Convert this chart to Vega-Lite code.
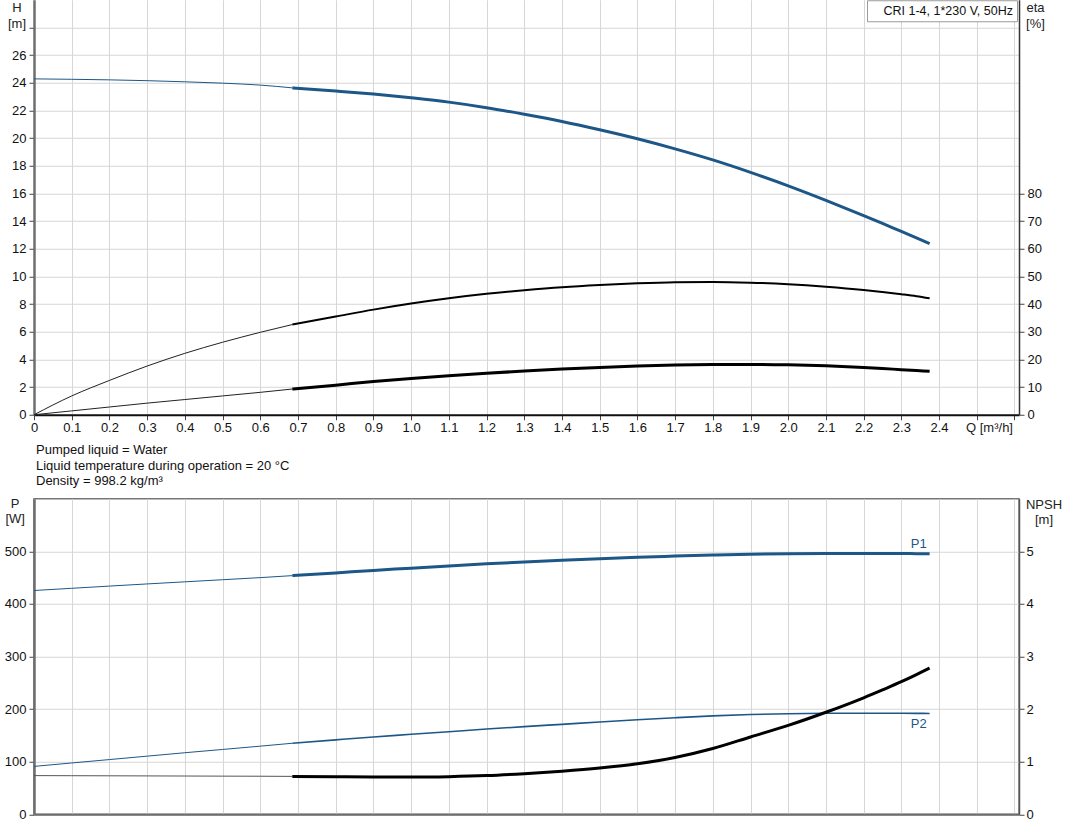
{
  "$schema": "https://vega.github.io/schema/vega-lite/v6.json",
  "background": "white",
  "padding": {"left": 3, "top": -0.25, "right": 8, "bottom": 17},
  "config": {
    "font": "Liberation Sans",
    "view": {"stroke": "#777777", "strokeWidth": 1.5},
    "axis": {
      "labelFont": "Liberation Sans", "labelFontSize": 13, "labelColor": "#111111",
      "titleFont": "Liberation Sans", "titleFontSize": 13, "titleFontWeight": "normal", "titleColor": "#222222",
      "gridColor": "#d6d6d6", "gridWidth": 1, "tickColor": "#444444", "labelFlush": false, "labelOverlap": false
    }
  },
  "datasets": {
    "pump": [
      {"Q": 0, "H": 24.28, "eta": 0, "etaTotal": 0, "P1": 425.5, "P2": 91, "NPSH": 0.735},
      {"Q": 0.1, "H": 24.25, "eta": 6.8, "etaTotal": 1.4, "P1": 429.7, "P2": 97.5, "NPSH": 0.733},
      {"Q": 0.2, "H": 24.21, "eta": 12.4, "etaTotal": 2.8, "P1": 433.9, "P2": 104, "NPSH": 0.731},
      {"Q": 0.3, "H": 24.15, "eta": 17.6, "etaTotal": 4.2, "P1": 438, "P2": 110.5, "NPSH": 0.729},
      {"Q": 0.4, "H": 24.07, "eta": 22.2, "etaTotal": 5.5, "P1": 442, "P2": 117, "NPSH": 0.727},
      {"Q": 0.5, "H": 23.97, "eta": 26.2, "etaTotal": 6.8, "P1": 446, "P2": 123.2, "NPSH": 0.725},
      {"Q": 0.6, "H": 23.83, "eta": 29.8, "etaTotal": 8.1, "P1": 450, "P2": 129.5, "NPSH": 0.723},
      {"Q": 0.685, "H": 23.63, "eta": 32.6, "etaTotal": 9.3, "P1": 453.8, "P2": 135, "NPSH": 0.72},
      {"Q": 0.8, "H": 23.4, "eta": 35.5, "etaTotal": 10.7, "P1": 459, "P2": 141.5, "NPSH": 0.713},
      {"Q": 0.9, "H": 23.18, "eta": 38.0, "etaTotal": 12.0, "P1": 463.7, "P2": 147, "NPSH": 0.708},
      {"Q": 1.0, "H": 22.91, "eta": 40.2, "etaTotal": 13.1, "P1": 468, "P2": 152, "NPSH": 0.707},
      {"Q": 1.1, "H": 22.6, "eta": 42.1, "etaTotal": 14.1, "P1": 472.3, "P2": 157, "NPSH": 0.715},
      {"Q": 1.2, "H": 22.2, "eta": 43.7, "etaTotal": 15.0, "P1": 476.3, "P2": 162, "NPSH": 0.735},
      {"Q": 1.3, "H": 21.72, "eta": 45.0, "etaTotal": 15.8, "P1": 479.8, "P2": 166.6, "NPSH": 0.772},
      {"Q": 1.4, "H": 21.2, "eta": 46.1, "etaTotal": 16.5, "P1": 483, "P2": 171, "NPSH": 0.82},
      {"Q": 1.5, "H": 20.6, "eta": 46.9, "etaTotal": 17.1, "P1": 486, "P2": 175.5, "NPSH": 0.88},
      {"Q": 1.6, "H": 19.95, "eta": 47.5, "etaTotal": 17.6, "P1": 488.7, "P2": 179.6, "NPSH": 0.96},
      {"Q": 1.7, "H": 19.22, "eta": 47.9, "etaTotal": 17.95, "P1": 491, "P2": 183.5, "NPSH": 1.08},
      {"Q": 1.8, "H": 18.42, "eta": 48.0, "etaTotal": 18.15, "P1": 493, "P2": 187, "NPSH": 1.25},
      {"Q": 1.9, "H": 17.52, "eta": 47.75, "etaTotal": 18.2, "P1": 494.5, "P2": 189.6, "NPSH": 1.47},
      {"Q": 2.0, "H": 16.55, "eta": 47.2, "etaTotal": 18.05, "P1": 495.4, "P2": 191.2, "NPSH": 1.69},
      {"Q": 2.1, "H": 15.5, "eta": 46.3, "etaTotal": 17.7, "P1": 495.8, "P2": 192, "NPSH": 1.94},
      {"Q": 2.2, "H": 14.4, "eta": 45.1, "etaTotal": 17.1, "P1": 496, "P2": 192.2, "NPSH": 2.215},
      {"Q": 2.25, "H": 13.83, "eta": 44.35, "etaTotal": 16.72, "P1": 495.9, "P2": 192.1, "NPSH": 2.365},
      {"Q": 2.3, "H": 13.25, "eta": 43.55, "etaTotal": 16.3, "P1": 495.8, "P2": 192, "NPSH": 2.52},
      {"Q": 2.34, "H": 12.79, "eta": 42.85, "etaTotal": 15.98, "P1": 495.6, "P2": 191.9, "NPSH": 2.655},
      {"Q": 2.375, "H": 12.37, "eta": 42.1, "etaTotal": 15.7, "P1": 495.5, "P2": 191.7, "NPSH": 2.78}
    ]
  },
  "data": {"name": "pump"},
  "spacing": 8,
  "resolve": {"scale": {"color": "independent"}, "legend": {"color": "independent"}},
  "vconcat": [
    {
      "width": 985,
      "height": 415,
      "view": {"stroke": null},
      "encoding": {
        "x": {
          "field": "Q", "type": "quantitative",
          "scale": {"domain": [0, 2.612], "nice": false, "zero": false},
          "axis": {
            "values": [0, 0.1, 0.2, 0.3, 0.4, 0.5, 0.6, 0.7, 0.8, 0.9, 1.0, 1.1, 1.2, 1.3, 1.4, 1.5, 1.6, 1.7, 1.8, 1.9, 2.0, 2.1, 2.2, 2.3, 2.4, 2.5, 2.6],
            "labelExpr": "datum.value == 0 ? '0' : (datum.value > 2.45 ? '' : format(datum.value, '.1f'))",
            "labelOverlap": false,
            "title": "Q [m³/h]", "titleX": 955, "titleY": 12.5, "titleAlign": "center", "titleBaseline": "middle",
            "grid": true, "tickSize": 5, "labelPadding": 2, "domainColor": "#111111", "domainWidth": 2
          }
        }
      },
      "layer": [
        {
          "layer": [
            {
              "transform": [{"filter": "datum.Q <= 0.69"}],
              "mark": {"type": "line", "color": "#1d5788", "strokeWidth": 1, "interpolate": "monotone"},
              "encoding": {
                "y": {
                  "field": "H", "type": "quantitative",
                  "scale": {"domain": [0, 30], "nice": false, "zero": false},
                  "axis": {
                    "orient": "left",
                    "values": [0, 2, 4, 6, 8, 10, 12, 14, 16, 18, 20, 22, 24, 26, 28],
                    "labelExpr": "datum.value >= 27 ? '' : format(datum.value, 'd')",
                    "labelOverlap": false, "labelSeparation": 0,
                    "title": ["H", "[m]"], "titleAngle": 0, "titleAlign": "center", "titleBaseline": "top",
                    "titleX": -17.5, "titleY": 2, "titleLineHeight": 15.5,
                    "grid": true, "tickSize": 5, "labelPadding": 3, "domainColor": "#6e6e6e", "domainWidth": 2.5
                  }
                }
              }
            },
            {
              "transform": [{"filter": "datum.Q >= 0.68"}],
              "mark": {"type": "line", "strokeWidth": 3, "interpolate": "monotone"},
              "encoding": {
                "y": {
                  "field": "H", "type": "quantitative",
                  "scale": {"domain": [0, 30], "nice": false, "zero": false},
                  "axis": {
                    "orient": "left",
                    "values": [0, 2, 4, 6, 8, 10, 12, 14, 16, 18, 20, 22, 24, 26, 28],
                    "labelExpr": "datum.value >= 27 ? '' : format(datum.value, 'd')",
                    "labelOverlap": false, "labelSeparation": 0,
                    "title": ["H", "[m]"], "titleAngle": 0, "titleAlign": "center", "titleBaseline": "top",
                    "titleX": -17.5, "titleY": 2, "titleLineHeight": 15.5,
                    "grid": true, "tickSize": 5, "labelPadding": 3, "domainColor": "#6e6e6e", "domainWidth": 2.5
                  }
                },
                "color": {
                  "datum": "CRI 1-4, 1*230 V, 50Hz", "type": "nominal",
                  "scale": {"range": ["#1d5788"]},
                  "legend": {
                    "title": null, "orient": "none", "legendX": 833, "legendY": 0.5, "padding": 4,
                    "symbolOpacity": 0, "symbolSize": 0, "symbolStrokeWidth": 0, "labelOffset": 0,
                    "labelFont": "Liberation Sans", "labelFontSize": 12.5, "labelColor": "#111111",
                    "strokeColor": "#9a9a9a", "fillColor": "white"
                  }
                }
              }
            }
          ]
        },
        {
          "layer": [
            {
              "transform": [{"filter": "datum.Q <= 0.69"}],
              "mark": {"type": "line", "color": "#222222", "strokeWidth": 1, "interpolate": "monotone"},
              "encoding": {
                "y": {
                  "field": "eta", "type": "quantitative",
                  "scale": {"domain": [0, 150], "nice": false, "zero": false},
                  "axis": {
                    "orient": "right",
                    "values": [0, 10, 20, 30, 40, 50, 60, 70, 80],
                    "labelOverlap": false,
                    "title": ["eta", "[%]"], "titleAngle": 0, "titleAlign": "center", "titleBaseline": "top",
                    "titleX": 16, "titleY": 2, "titleLineHeight": 15.5,
                    "grid": false, "tickSize": 5, "labelPadding": 3, "domainColor": "#333333", "domainWidth": 1.5
                  }
                }
              }
            },
            {
              "transform": [{"filter": "datum.Q >= 0.68"}],
              "mark": {"type": "line", "color": "#000000", "strokeWidth": 2, "interpolate": "monotone"},
              "encoding": {
                "y": {"field": "eta", "type": "quantitative", "scale": {"domain": [0, 150], "nice": false, "zero": false}, "title": ["eta", "[%]"]}
              }
            },
            {
              "transform": [{"filter": "datum.Q <= 0.69"}],
              "mark": {"type": "line", "color": "#222222", "strokeWidth": 1, "interpolate": "monotone"},
              "encoding": {
                "y": {"field": "etaTotal", "type": "quantitative", "scale": {"domain": [0, 150], "nice": false, "zero": false}, "title": ["eta", "[%]"]}
              }
            },
            {
              "transform": [{"filter": "datum.Q >= 0.68"}],
              "mark": {"type": "line", "color": "#000000", "strokeWidth": 3, "interpolate": "monotone"},
              "encoding": {
                "y": {"field": "etaTotal", "type": "quantitative", "scale": {"domain": [0, 150], "nice": false, "zero": false}, "title": ["eta", "[%]"]}
              }
            }
          ]
        }
      ],
      "resolve": {"scale": {"y": "independent"}}
    },
    {
      "width": 985,
      "height": 315.5,
      "title": {
        "text": ["Pumped liquid = Water", "Liquid temperature during operation = 20 °C", "Density = 998.2 kg/m³"],
        "anchor": "start", "frame": "group", "orient": "top",
        "font": "Liberation Sans", "fontSize": 13, "fontWeight": "normal", "color": "#111111",
        "lineHeight": 15.5, "offset": 9, "dx": 2
      },
      "encoding": {
        "x": {
          "field": "Q", "type": "quantitative",
          "scale": {"domain": [0, 2.612], "nice": false, "zero": false},
          "axis": {
            "values": [0, 0.1, 0.2, 0.3, 0.4, 0.5, 0.6, 0.7, 0.8, 0.9, 1.0, 1.1, 1.2, 1.3, 1.4, 1.5, 1.6, 1.7, 1.8, 1.9, 2.0, 2.1, 2.2, 2.3, 2.4, 2.5, 2.6],
            "labels": false, "ticks": false, "title": null,
            "grid": true, "domainColor": "#6e6e6e", "domainWidth": 2
          }
        }
      },
      "layer": [
        {
          "layer": [
            {
              "transform": [{"filter": "datum.Q <= 0.69"}],
              "mark": {"type": "line", "color": "#1d5788", "strokeWidth": 1, "interpolate": "monotone"},
              "encoding": {
                "y": {
                  "field": "P1", "type": "quantitative",
                  "scale": {"domain": [0, 600], "nice": false, "zero": false},
                  "axis": {
                    "orient": "left",
                    "values": [0, 100, 200, 300, 400, 500],
                    "labelOverlap": false,
                    "title": ["P", "[W]"], "titleAngle": 0, "titleAlign": "center", "titleBaseline": "top",
                    "titleX": -19.3, "titleY": -1.5, "titleLineHeight": 15.5,
                    "grid": true, "tickSize": 5, "labelPadding": 3, "domainColor": "#6e6e6e", "domainWidth": 2.5
                  }
                }
              }
            },
            {
              "transform": [{"filter": "datum.Q >= 0.68"}],
              "mark": {"type": "line", "color": "#1d5788", "strokeWidth": 3, "interpolate": "monotone"},
              "encoding": {
                "y": {"field": "P1", "type": "quantitative", "scale": {"domain": [0, 600], "nice": false, "zero": false}, "title": ["P", "[W]"]}
              }
            },
            {
              "transform": [{"filter": "datum.Q <= 0.69"}],
              "mark": {"type": "line", "color": "#1d5788", "strokeWidth": 1, "interpolate": "monotone"},
              "encoding": {
                "y": {"field": "P2", "type": "quantitative", "scale": {"domain": [0, 600], "nice": false, "zero": false}, "title": ["P", "[W]"]}
              }
            },
            {
              "transform": [{"filter": "datum.Q >= 0.68"}],
              "mark": {"type": "line", "color": "#1d5788", "strokeWidth": 1.6, "interpolate": "monotone"},
              "encoding": {
                "y": {"field": "P2", "type": "quantitative", "scale": {"domain": [0, 600], "nice": false, "zero": false}, "title": ["P", "[W]"]}
              }
            },
            {
              "transform": [{"filter": "datum.Q == 2.375"}],
              "mark": {"type": "text", "text": "P1", "align": "right", "baseline": "middle", "dx": -3, "dy": -10, "color": "#1d5788", "font": "Liberation Sans", "fontSize": 13},
              "encoding": {
                "y": {"field": "P1", "type": "quantitative", "scale": {"domain": [0, 600], "nice": false, "zero": false}, "title": ["P", "[W]"]}
              }
            },
            {
              "transform": [{"filter": "datum.Q == 2.375"}],
              "mark": {"type": "text", "text": "P2", "align": "right", "baseline": "middle", "dx": -3, "dy": 11, "color": "#1d5788", "font": "Liberation Sans", "fontSize": 13},
              "encoding": {
                "y": {"field": "P2", "type": "quantitative", "scale": {"domain": [0, 600], "nice": false, "zero": false}, "title": ["P", "[W]"]}
              }
            }
          ]
        },
        {
          "layer": [
            {
              "transform": [{"filter": "datum.Q <= 0.69"}],
              "mark": {"type": "line", "color": "#555555", "strokeWidth": 1, "interpolate": "monotone"},
              "encoding": {
                "y": {
                  "field": "NPSH", "type": "quantitative",
                  "scale": {"domain": [0, 6], "nice": false, "zero": false},
                  "axis": {
                    "orient": "right",
                    "values": [0, 1, 2, 3, 4, 5],
                    "labelOverlap": false,
                    "title": ["NPSH", "[m]"], "titleAngle": 0, "titleAlign": "center", "titleBaseline": "top",
                    "titleX": 24.5, "titleY": -0.5, "titleLineHeight": 15.5,
                    "grid": false, "tickSize": 5, "labelPadding": 2, "domainColor": "#555555", "domainWidth": 1.5
                  }
                }
              }
            },
            {
              "transform": [{"filter": "datum.Q >= 0.68"}],
              "mark": {"type": "line", "color": "#000000", "strokeWidth": 3, "interpolate": "monotone"},
              "encoding": {
                "y": {"field": "NPSH", "type": "quantitative", "scale": {"domain": [0, 6], "nice": false, "zero": false}, "title": ["NPSH", "[m]"]}
              }
            }
          ]
        }
      ],
      "resolve": {"scale": {"y": "independent"}}
    }
  ]
}
